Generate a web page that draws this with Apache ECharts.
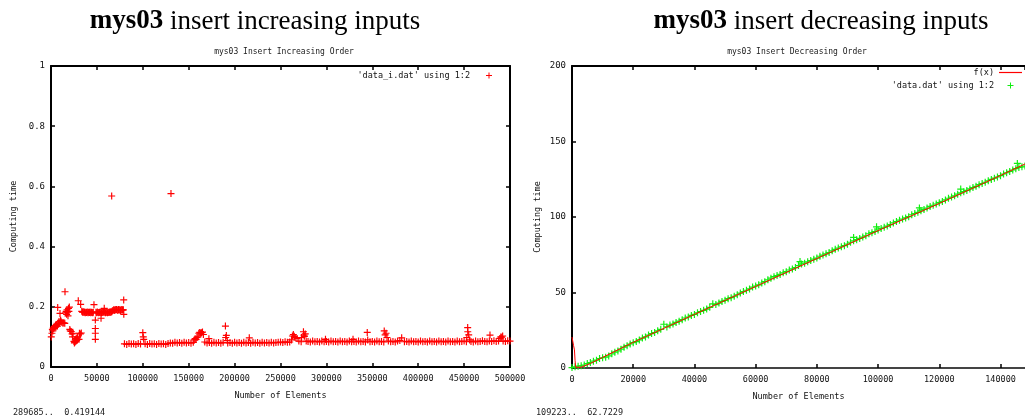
<!DOCTYPE html>
<html>
<head>
<meta charset="utf-8">
<script src="https://cdn.jsdelivr.net/npm/echarts@6/dist/echarts.min.js"></script>
<style>
html,body{margin:0;padding:0;background:#fff;}
#chart{width:1025px;height:419px;}
</style>
</head>
<body>
<div id="chart"></div>
<script>
// ---------- Left chart: insert increasing inputs ----------
const incXTicks = [0, 50000, 100000, 150000, 200000, 250000, 300000, 350000, 400000, 450000, 500000];
const incYTicks = [0, 0.2, 0.4, 0.6, 0.8, 1];
const incEarly = [
  [300,0.100],[1000,0.112],[1500,0.125],[2000,0.120],[2500,0.130],[3000,0.128],[3500,0.135],[4000,0.132],
  [5000,0.138],[5500,0.134],[6000,0.140],[7000,0.136],[7300,0.198],[8000,0.142],[8500,0.150],[9000,0.146],
  [9800,0.178],[10000,0.152],[10500,0.155],[11000,0.150],[12000,0.148],[13000,0.145],[14000,0.147],[15000,0.145],
  [15250,0.250],[16000,0.180],[16500,0.185],[17000,0.175],[17500,0.190],[18000,0.182],[18500,0.170],[19000,0.195],
  [19500,0.185],[20000,0.199],[20500,0.125],[21000,0.120],[22000,0.118],[23000,0.110],[23500,0.100],[24000,0.112],
  [25000,0.085],[25500,0.080],[26000,0.082],[26500,0.090],[27000,0.085],[27500,0.095],[28000,0.088],[28500,0.100],
  [29000,0.097],[29700,0.220],[30500,0.092],[31000,0.112],[32000,0.110],[32300,0.208],[33000,0.113]
];
const incPlateau = [
  [33500,0.185],[34300,0.182],[35000,0.184],[35800,0.181],[36500,0.183],[37300,0.180],[38000,0.182],[38800,0.181],
  [39500,0.183],[40300,0.180],[41000,0.182],[41800,0.181],[42500,0.183],[43300,0.180],[44000,0.182],[44800,0.181],
  [45500,0.180],[46000,0.182],[46800,0.207],[48300,0.156],[48300,0.128],[48300,0.112],[48300,0.092],
  [49000,0.182],[49800,0.180],[50500,0.183],[51300,0.181],[52000,0.180],[52800,0.182],[53500,0.181],[54300,0.183],
  [54500,0.162],[55000,0.180],[55800,0.182],[56500,0.181],[57300,0.183],[58000,0.195],[58500,0.182],[59300,0.180],
  [60000,0.181],[60800,0.183],[61500,0.180],[62300,0.182],[63000,0.181],[63800,0.183],[64500,0.181],[65300,0.184],
  [66000,0.183],[66800,0.186],[67500,0.188],[68300,0.190],[69000,0.188],[69800,0.191],[70500,0.189],[71300,0.191],
  [72000,0.190],[72800,0.188],[73500,0.191],[74300,0.189],[75000,0.190],[75800,0.188],[76500,0.191],[77300,0.189],
  [78000,0.190],[78800,0.190],[79200,0.223],[79300,0.175]
];
const incOutliers = [[66100,0.568],[130700,0.576]];
const incLow = [
  [80000,0.077],[82500,0.075],[85000,0.078],[87500,0.076],[90000,0.077],[92500,0.075],[95000,0.078],[97500,0.076],
  [100000,0.114],[100500,0.100],[101000,0.092],[102500,0.077],[105000,0.075],[107500,0.078],[110000,0.076],
  [112500,0.077],[115000,0.075],[117500,0.078],[120000,0.076],[122500,0.077],[125000,0.075],[127500,0.078],
  [130000,0.080],[132500,0.079],[135000,0.082],[137500,0.080],[140000,0.081],[142500,0.079],[145000,0.082],
  [147500,0.080],[150000,0.081],[152500,0.079],[155000,0.082],[156000,0.090],[157000,0.094],[158000,0.092],
  [159000,0.098],[160000,0.100],[161000,0.112],[162000,0.115],[163000,0.113],[164000,0.114],[165000,0.116],
  [166000,0.108],[167500,0.083],[170000,0.080],[172000,0.094],[172500,0.081],[175000,0.079],[177500,0.082],
  [180000,0.080],[182500,0.081],[185000,0.079],[187500,0.082],[190000,0.136],[190300,0.098],[191000,0.105],
  [192000,0.088],[192500,0.080],[195000,0.081],[197500,0.079],[200000,0.082],[202500,0.080],[205000,0.081],
  [207500,0.079],[210000,0.082],[212500,0.080],[215000,0.081],[216000,0.097],[217500,0.079],[220000,0.082],
  [222500,0.080],[225000,0.081],[227500,0.079],[230000,0.082],[232500,0.080],[235000,0.081],[237500,0.080],
  [240000,0.082],[242500,0.080],[245000,0.081],[247500,0.082],[250000,0.083],[252500,0.081],[255000,0.084],
  [257500,0.082],[260000,0.083],[262000,0.090],[263000,0.103],[264000,0.108],[265000,0.102],[266000,0.098],
  [268000,0.095],[270000,0.086],[272500,0.084],[273000,0.098],[275000,0.117],[275600,0.106],[276000,0.102],
  [277000,0.110],[278000,0.086],[280000,0.085],[282500,0.083],[285000,0.086],[287500,0.084],[290000,0.085],
  [292500,0.083],[295000,0.086],[297500,0.084],[299000,0.092],[300000,0.085],[302500,0.083],[305000,0.086],
  [307500,0.084],[310000,0.085],[312500,0.083],[315000,0.086],[317500,0.084],[320000,0.085],[322500,0.083],
  [325000,0.086],[327500,0.084],[329000,0.092],[330000,0.085],[332500,0.083],[335000,0.086],[337500,0.084],
  [340000,0.085],[342500,0.083],[344500,0.115],[345000,0.090],[347500,0.084],[350000,0.085],[352500,0.083],
  [355000,0.086],[357500,0.084],[360000,0.085],[362500,0.083],[363000,0.120],[364000,0.107],[365000,0.112],
  [366000,0.098],[367500,0.086],[370000,0.084],[372500,0.085],[375000,0.083],[377500,0.086],[380000,0.088],
  [382000,0.097],[385000,0.084],[387500,0.085],[390000,0.083],[392500,0.086],[395000,0.084],[397500,0.085],
  [400000,0.083],[402500,0.086],[405000,0.084],[407500,0.085],[410000,0.083],[412500,0.086],[415000,0.084],
  [417500,0.085],[420000,0.083],[422500,0.086],[425000,0.084],[427500,0.085],[430000,0.083],[432500,0.086],
  [435000,0.084],[437500,0.085],[440000,0.083],[442500,0.086],[445000,0.084],[447500,0.085],[450000,0.086],
  [452500,0.084],[453000,0.098],[453900,0.131],[454000,0.117],[455000,0.107],[456000,0.090],[457500,0.085],
  [460000,0.083],[462500,0.086],[465000,0.084],[467500,0.085],[470000,0.087],[472500,0.085],[475000,0.084],
  [477500,0.086],[478200,0.106],[480000,0.085],[482500,0.087],[485000,0.085],[487500,0.086],[489000,0.095],
  [490000,0.100],[491000,0.099],[492000,0.103],[492500,0.086],[495000,0.085],[497500,0.087],[500000,0.086]
];

// ---------- Right chart: insert decreasing inputs ----------
const decXTicks = [0, 20000, 40000, 60000, 80000, 100000, 120000, 140000];
const decYTicks = [0, 50, 100, 150, 200];
// measured points, one every 1000 elements (x in thousands)
const decXk = [0,1,2,3,4,5,6,7,8,9,10,11,12,13,14,15,16,17,18,19,20,21,22,23,24,25,26,27,28,29,
  30,31,32,33,34,35,36,37,38,39,40,41,42,43,44,45,46,47,48,49,50,51,52,53,54,55,56,57,58,59,
  60,61,62,63,64,65,66,67,68,69,70,71,72,73,74,75,76,77,78,79,80,81,82,83,84,85,86,87,88,89,
  90,91,92,93,94,95,96,97,98,99,100,101,102,103,104,105,106,107,108,109,110,111,112,113,114,115,116,117,118,119,
  120,121,122,123,124,125,126,127,128,129,130,131,132,133,134,135,136,137,138,139,140,141,142,143,144,145,146,147,148];
const decY = [0.3,0.8,1.2,1.5,2.0,2.9,3.6,4.5,5.2,6.3,6.8,7.2,8.0,9.4,10.5,11.3,12.5,13.8,14.8,15.9,
  16.8,17.5,18.6,19.8,20.6,21.8,22.8,23.5,24.6,25.6,29.0,27.2,28.4,29.1,30.2,31.0,32.0,33.1,33.8,34.8,
  35.5,36.6,37.4,38.2,39.0,40.2,42.5,42.0,43.0,44.1,44.8,45.9,46.6,47.5,48.5,49.6,50.6,51.5,52.4,53.6,
  54.3,55.1,56.3,57.2,58.4,59.5,60.5,61.2,62.0,63.0,63.8,64.9,65.6,66.5,67.8,68.9,69.4,70.3,71.2,72.1,
  72.8,74.0,74.8,75.6,76.5,77.6,78.6,79.4,80.3,81.0,82.0,83.3,84.2,85.0,85.8,86.7,87.6,88.9,89.6,90.4,
  91.4,92.4,93.2,94.0,95.0,96.1,97.0,97.9,98.7,99.4,100.2,101.5,102.3,103.1,104.1,105.0,105.9,107.0,107.8,108.6,
  109.5,110.3,111.3,112.4,113.2,114.0,115.1,116.0,116.8,117.6,118.6,119.5,120.3,121.4,122.2,123.0,124.0,124.9,125.7,126.5,
  127.4,128.5,129.3,130.2,131.1,132.0,132.8,133.2,133.8];
const decSpikes = [[74500,70.5],[92000,86.5],[99500,93.5],[113500,106.0],[127000,118.5],[145500,135.5]];
const fxX = [0,500,800,1000,1200,3000,6000,10000,14000,20000,40000,60000,80000,100000,120000,140000,150000];
const fxY = [20.5,15,12,5,0.5,0.5,3,7,11,17,35.5,54,72.5,91,109,127.5,137];

const incName = "'data_i.dat' using 1:2";
const decName = "'data.dat' using 1:2";

const mono = 'DejaVu Sans Mono';
const serif = 'Liberation Serif';
const plus = 'path://M2.5,0H3.5V2.5H6V3.5H3.5V6H2.5V3.5H0V2.5H2.5Z';

const incData = incEarly.concat(incPlateau, incOutliers, incLow);
const decData = decXk.map((k, i) => [k * 1000, decY[i]]).concat(decSpikes);
const fxData = fxX.map((x, i) => [x, fxY[i]]);
const plain = v => String(v);

function xAxisCfg(gridIndex, ticks, max, name, pos, showLabels, lineColor) {
  return {
    type: 'value', gridIndex, position: pos, min: ticks[0], max: max, interval: ticks[1] - ticks[0],
    name: showLabels ? name : '', nameLocation: 'middle', nameGap: 24,
    nameTextStyle: {fontFamily: mono, fontSize: 8.5, color: '#111'},
    axisLine: {show: true, onZero: false, lineStyle: {color: lineColor, width: 2}},
    axisTick: {show: true, inside: true, length: 4, lineStyle: {color: '#000', width: 1.5}},
    axisLabel: {show: showLabels, margin: 7, fontFamily: mono, fontSize: 8.5, color: '#111',
      formatter: plain, showMaxLabel: max === ticks[ticks.length - 1]},
    splitLine: {show: false}
  };
}

function yAxisCfg(gridIndex, ticks, pos, showLabels, showLine, nameGap) {
  return {
    type: 'value', gridIndex, position: pos, min: ticks[0], max: ticks[ticks.length - 1], interval: ticks[1] - ticks[0],
    name: showLabels ? 'Computing time' : '', nameLocation: 'middle', nameGap: nameGap,
    nameTextStyle: {fontFamily: mono, fontSize: 8.5, color: '#111'},
    axisLine: {show: showLine, onZero: false, lineStyle: {color: '#000', width: 2}},
    axisTick: {show: showLine, inside: true, length: 4, lineStyle: {color: '#000', width: 1.5}},
    axisLabel: {show: showLabels, margin: 6, fontFamily: mono, fontSize: 9, color: '#111', formatter: plain},
    splitLine: {show: false}
  };
}

const chart = echarts.init(document.getElementById('chart'), null, {renderer: 'canvas'});

const titleStyle = {fontFamily: serif, fontSize: 27, fontWeight: 'normal', color: '#000',
  rich: {b: {fontFamily: serif, fontSize: 27, fontWeight: 'bold', color: '#000'}}};
const smallStyle = {fontFamily: mono, fontSize: 8, fontWeight: 'normal', color: '#222'};
const statusStyle = {fontFamily: mono, fontSize: 8.5, fontWeight: 'normal', color: '#222'};

const option = {
  backgroundColor: '#fff',
  animation: false,
  title: [
    {text: '{b|mys03} insert increasing inputs', left: 250, top: 3, textAlign: 'center', textStyle: titleStyle},
    {text: '{b|mys03} insert decreasing inputs', left: 816, top: 3, textAlign: 'center', textStyle: titleStyle},
    {text: 'mys03 Insert Increasing Order', left: 279, top: 43, textAlign: 'center', textStyle: smallStyle},
    {text: 'mys03 Insert Decreasing Order', left: 792, top: 43, textAlign: 'center', textStyle: smallStyle},
    {text: '289685..  0.419144', left: 8, top: 403, textStyle: statusStyle},
    {text: '109223..  62.7229', left: 531, top: 403, textStyle: statusStyle}
  ],
  legend: [
    {data: [incName], orient: 'vertical', right: 533, top: 71, padding: 0, align: 'right',
     itemWidth: 6, itemHeight: 6, selectedMode: false,
     textStyle: {fontFamily: mono, fontSize: 8.5, color: '#111', padding: [0, 11, 0, 0]}},
    {data: [{name: 'f(x)', icon: 'path://M0,0H23V1.2H0Z'}, decName], orient: 'vertical', right: 3, top: 68,
     padding: 0, align: 'right', itemWidth: 23, itemHeight: 6, itemGap: 4, selectedMode: false,
     textStyle: {fontFamily: mono, fontSize: 8.5, color: '#111'}}
  ],
  grid: [
    {left: 51, top: 66, width: 459, height: 301, containLabel: false},
    {left: 572, top: 66, width: 453, height: 302, containLabel: false}
  ],
  xAxis: [
    xAxisCfg(0, incXTicks, 500000, 'Number of Elements', 'bottom', true, '#000'),
    xAxisCfg(0, incXTicks, 500000, '', 'top', false, '#000'),
    xAxisCfg(1, decXTicks, 148000, 'Number of Elements', 'bottom', true, '#444'),
    xAxisCfg(1, decXTicks, 148000, '', 'top', false, '#000')
  ],
  yAxis: [
    yAxisCfg(0, incYTicks, 'left', true, true, 33),
    yAxisCfg(0, incYTicks, 'right', false, true, 30),
    yAxisCfg(1, decYTicks, 'left', true, true, 30),
    yAxisCfg(1, decYTicks, 'right', false, false, 30)
  ],
  series: [
    {name: incName, type: 'scatter', xAxisIndex: 0, yAxisIndex: 0, data: incData,
     symbol: plus, symbolSize: 7, itemStyle: {color: '#ff0000', opacity: 1}},
    {name: 'f(x)', type: 'line', xAxisIndex: 2, yAxisIndex: 2, data: fxData,
     symbol: 'none', showSymbol: false, lineStyle: {color: '#ff0000', width: 1}, itemStyle: {color: '#ff0000'}},
    {name: decName, type: 'scatter', xAxisIndex: 2, yAxisIndex: 2, data: decData,
     symbol: plus, symbolSize: 7, itemStyle: {color: '#11ee11', opacity: 1}}
  ]
};
chart.setOption(option);
</script>
</body>
</html>
